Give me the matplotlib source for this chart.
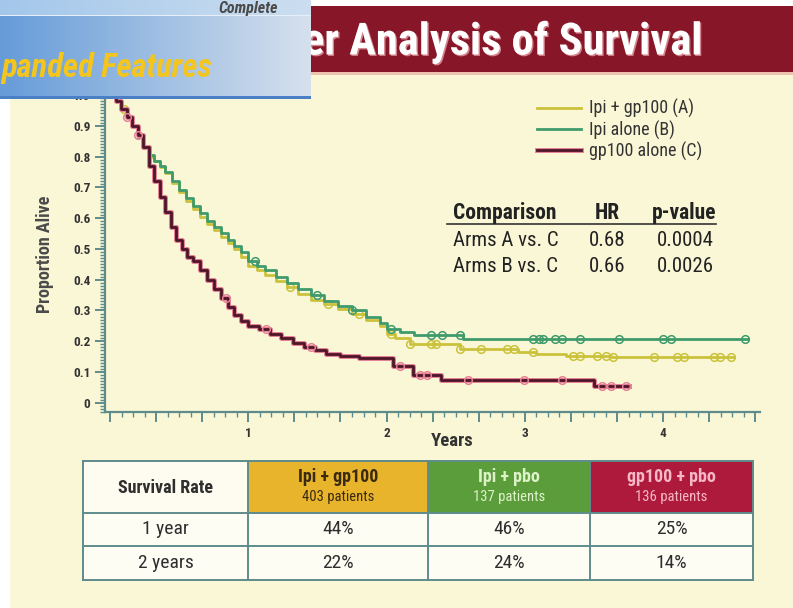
import numpy as np
import matplotlib

matplotlib.use("Agg")
import matplotlib.pyplot as plt
import matplotlib.ticker as mticker
import matplotlib.patheffects as pe
from matplotlib.patches import Rectangle

FONT = ["Roboto Condensed", "DejaVu Sans"]
plt.rcParams["font.family"] = FONT

# Kaplan-Meier steps (years, proportion alive)
TIME_A = [0, 0.04, 0.08, 0.12, 0.16, 0.2, 0.24, 0.28, 0.32, 0.36, 0.4, 0.45, 0.5, 0.55,
          0.6, 0.65, 0.7, 0.75, 0.8, 0.85, 0.9, 0.95, 1.0, 1.06, 1.12, 1.2, 1.28, 1.36,
          1.45, 1.55, 1.65, 1.75, 1.85, 1.95, 2.0, 2.06, 2.17, 2.53, 2.95, 3.08, 3.3, 3.62]
SURV_A = [1.0, 0.98, 0.955, 0.93, 0.9, 0.865, 0.83, 0.8, 0.785, 0.765, 0.745, 0.715, 0.685,
          0.655, 0.63, 0.605, 0.58, 0.56, 0.54, 0.52, 0.5, 0.475, 0.445, 0.43, 0.415, 0.395,
          0.375, 0.355, 0.335, 0.32, 0.305, 0.29, 0.27, 0.25, 0.225, 0.21, 0.19, 0.175, 0.165,
          0.16, 0.153, 0.148]
END_A = 4.51
CENSOR_A = [0.1, 1.3, 1.58, 1.8, 2.03, 2.17, 2.32, 2.36, 2.53, 2.68, 2.87, 2.92, 3.06, 3.35,
            3.4, 3.52, 3.59, 3.64, 3.93, 4.1, 4.15, 4.37, 4.41, 4.49]

TIME_B = [0, 0.04, 0.08, 0.12, 0.16, 0.2, 0.24, 0.28, 0.32, 0.36, 0.4, 0.45, 0.5, 0.55,
          0.6, 0.65, 0.7, 0.75, 0.8, 0.85, 0.9, 0.95, 1.0, 1.06, 1.12, 1.2, 1.28, 1.36,
          1.45, 1.55, 1.65, 1.75, 1.85, 1.95, 2.0, 2.1, 2.2, 2.55]
SURV_B = [1.0, 0.98, 0.955, 0.93, 0.9, 0.865, 0.83, 0.805, 0.785, 0.77, 0.75, 0.72, 0.69,
          0.665, 0.64, 0.615, 0.59, 0.57, 0.55, 0.53, 0.51, 0.49, 0.46, 0.445, 0.43, 0.41,
          0.39, 0.37, 0.35, 0.33, 0.315, 0.3, 0.28, 0.26, 0.24, 0.23, 0.22, 0.207]
END_B = 4.61
CENSOR_B = [1.05, 1.5, 1.75, 2.03, 2.32, 2.4, 2.53, 3.06, 3.1, 3.13, 3.22, 3.27, 3.4, 3.68,
            4.0, 4.06, 4.59]

TIME_C = [0, 0.04, 0.08, 0.12, 0.16, 0.2, 0.24, 0.28, 0.32, 0.36, 0.4, 0.44, 0.48, 0.52,
          0.56, 0.6, 0.65, 0.7, 0.75, 0.8, 0.85, 0.9, 0.95, 1.0, 1.08, 1.16, 1.24, 1.32,
          1.4, 1.48, 1.56, 1.66, 1.8, 2.05, 2.19, 2.39, 3.5]
SURV_C = [1.0, 0.98, 0.955, 0.93, 0.9, 0.87, 0.83, 0.77, 0.72, 0.67, 0.62, 0.57, 0.53, 0.5,
          0.475, 0.46, 0.43, 0.4, 0.37, 0.34, 0.31, 0.285, 0.265, 0.25, 0.24, 0.225, 0.21,
          0.195, 0.18, 0.17, 0.16, 0.152, 0.145, 0.118, 0.091, 0.075, 0.053]
END_C = 3.75
CENSOR_C = [0.12, 0.2, 0.84, 1.13, 1.45, 2.1, 2.24, 2.29, 2.59, 2.99, 3.27, 3.56, 3.62, 3.73]

ARM_LABELS = ["Ipi + gp100 (A)", "Ipi alone (B)", "gp100 alone (C)"]

HR_HEADER = ["Comparison", "HR", "p-value"]
HR_ROWS = [["Arms A vs. C", "0.68", "0.0004"], ["Arms B vs. C", "0.66", "0.0026"]]

TABLE_GROUPS = ["Ipi + gp100", "Ipi + pbo", "gp100 + pbo"]
TABLE_PATIENTS = ["403 patients", "137 patients", "136 patients"]
TABLE_ROWS = ["1 year", "2 years"]
TABLE_VALUES = [["44%", "46%", "25%"], ["22%", "24%", "14%"]]

W, H = 793, 608
CREAM = "#FAF7D6"
BANNER = "#861628"
TEAL = "#5E8C8C"
INK = "#2E2E2E"

fig = plt.figure(figsize=(W / 100, H / 100), dpi=100, facecolor="white")

# background layer in pixel coordinates
bg = fig.add_axes([0, 0, 1, 1], zorder=0)
bg.set_xlim(0, W)
bg.set_ylim(H, 0)
bg.axis("off")
bg.add_patch(Rectangle((10, 72), W - 10, H - 72, color=CREAM, lw=0))
bg.add_patch(Rectangle((0, 6), W, 66, color=BANNER, lw=0))
bg.add_patch(Rectangle((0, 72), W, 3, color="#EDC3AE", lw=0))
bg.text(303, 42, "er Analysis of Survival", color="white", fontsize=32, fontweight="bold",
        ha="left", va="center",
        path_effects=[pe.withSimplePatchShadow(offset=(1, -1), shadow_rgbFace="#E8A0A8", alpha=0.8)])

# survival table
col_x = [83, 248, 428, 590, 753]
row_y = [461, 513, 546, 580]
head_colors = ["#FEFCF0", "#E8B42C", "#5B9C3B", "#AE1A3B"]
head_text = [INK, "#3A2A10", "#DDF2C8", "#F6B8C6"]
for i in range(4):
    bg.add_patch(Rectangle((col_x[i], row_y[0]), col_x[i + 1] - col_x[i], row_y[1] - row_y[0],
                           facecolor=head_colors[i], lw=0))
bg.add_patch(Rectangle((col_x[0], row_y[1]), col_x[-1] - col_x[0], row_y[-1] - row_y[1],
                       facecolor="#FEFDF4", lw=0))
for x in col_x:
    bg.plot([x, x], [row_y[0], row_y[-1]], color=TEAL, lw=1.4)
for y in row_y:
    bg.plot([col_x[0], col_x[-1]], [y, y], color=TEAL, lw=1.4)

cx = [(col_x[i] + col_x[i + 1]) / 2 for i in range(4)]
bg.text(cx[0], 488, "Survival Rate", ha="center", va="center", fontsize=13,
        fontweight="bold", color=INK)
for i, (g, p) in enumerate(zip(TABLE_GROUPS, TABLE_PATIENTS)):
    bg.text(cx[i + 1], 477, g, ha="center", va="center", fontsize=13, fontweight="bold",
            color=head_text[i + 1])
    bg.text(cx[i + 1], 497, p, ha="center", va="center", fontsize=10.5, color=head_text[i + 1])
for r, (lab, vals) in enumerate(zip(TABLE_ROWS, TABLE_VALUES)):
    yc = (row_y[r + 1] + row_y[r + 2]) / 2
    bg.text(cx[0], yc, lab, ha="center", va="center", fontsize=14, color=INK)
    for i, v in enumerate(vals):
        bg.text(cx[i + 1], yc, v, ha="center", va="center", fontsize=14, color=INK)

# hazard ratio block
bg.text(453, 213, HR_HEADER[0], ha="left", va="center", fontsize=15.5, fontweight="bold", color="#222")
bg.text(607, 213, HR_HEADER[1], ha="center", va="center", fontsize=15.5, fontweight="bold", color="#222")
bg.text(716, 213, HR_HEADER[2], ha="right", va="center", fontsize=15.5, fontweight="bold", color="#222")
bg.plot([447, 716], [224, 224], color="#333", lw=1.2)
for r, row in enumerate(HR_ROWS):
    y = 241 + r * 26
    bg.text(453, y, row[0], ha="left", va="center", fontsize=15, color="#222")
    bg.text(607, y, row[1], ha="center", va="center", fontsize=15, color="#222")
    bg.text(714, y, row[2], ha="right", va="center", fontsize=15, color="#222")

bg.text(45, 254, "Proportion Alive", rotation=90, ha="center", va="center", fontsize=13,
        fontweight="bold", color="#4A4A4A")
bg.text(452, 441, "Years", ha="center", va="center", fontsize=13.5, fontweight="bold", color="#333")

# survival curves
ax = fig.add_axes([105 / W, 1 - 412 / H, (760 - 105) / W, (412 - 95) / H], zorder=1)
ax.patch.set_alpha(0)

arms = [
    (TIME_A, SURV_A, END_A, CENSOR_A, "#CBC23C", None),
    (TIME_B, SURV_B, END_B, CENSOR_B, "#3F9A6C", None),
    (TIME_C, SURV_C, END_C, CENSOR_C, "#4E1629", "#E58295"),
]
for (t, s, end, cens, color, halo), label in zip(arms, ARM_LABELS):
    t = np.array(t + [end])
    s = np.array(s + [s[-1]])
    effects = [pe.Stroke(linewidth=3.6, foreground=halo), pe.Normal()] if halo else None
    ax.step(t, s, where="post", color=color, lw=2.0, label=label, path_effects=effects)
    idx = np.searchsorted(t, cens, side="right") - 1
    ax.plot(cens, s[idx], "o", ms=5.5, mfc="none", mec=halo or color, mew=1.1)

ax.set_xlim(-0.036, 4.70)
ax.set_ylim(-0.03, 1.0)
for side in ("top", "right"):
    ax.spines[side].set_visible(False)
for side in ("left", "bottom"):
    ax.spines[side].set_color(TEAL)
    ax.spines[side].set_linewidth(1.6)
ax.yaxis.set_major_locator(mticker.MultipleLocator(0.1))
ax.yaxis.set_minor_locator(mticker.MultipleLocator(0.01))
ax.yaxis.set_major_formatter(mticker.FuncFormatter(lambda v, _: "0" if abs(v) < 1e-9 else f"{v:.1f}"))
ax.xaxis.set_major_locator(mticker.MultipleLocator(1 / 3))
ax.xaxis.set_minor_locator(mticker.MultipleLocator(1 / 12))
ax.xaxis.set_major_formatter(mticker.FuncFormatter(
    lambda v, _: f"{round(v):d}" if abs(v - round(v)) < 1e-6 and round(v) > 0 else ""))
ax.tick_params(axis="both", which="major", color=TEAL, width=1.4, length=7, labelsize=9.5,
               labelcolor="#333")
ax.tick_params(axis="both", which="minor", color=TEAL, width=1.0, length=3.5)
ax.tick_params(axis="x", which="major", pad=4)
for lab in ax.get_xticklabels() + ax.get_yticklabels():
    lab.set_fontweight("bold")

leg = ax.legend(loc="upper left", bbox_to_anchor=(530 / W, 1 - 92 / H), bbox_transform=fig.transFigure,
                frameon=False, fontsize=13, handlelength=2.4, handletextpad=0.45, labelspacing=0.12,
                borderaxespad=0)
for txt in leg.get_texts():
    txt.set_color("#333")

# blue overlay box in the corner
ov = fig.add_axes([0, 0, 1, 1], zorder=3)
ov.axis("off")
grad = np.linspace(0, 1, 256)
blue = np.array([[0.40, 0.61, 0.85], [0.84, 0.88, 0.93]])
img = (blue[0][None, :] * (1 - grad[:, None]) + blue[1][None, :] * grad[:, None])[None, :, :]
ov.imshow(img, extent=(0, 311, 97, 16), aspect="auto", interpolation="bicubic")
top_blue = np.array([[0.64, 0.78, 0.92], [0.80, 0.87, 0.94]])
img2 = (top_blue[0][None, :] * (1 - grad[:, None]) + top_blue[1][None, :] * grad[:, None])[None, :, :]
ov.imshow(img2, extent=(0, 311, 15, 0), aspect="auto", interpolation="bicubic")
ov.add_patch(Rectangle((0, 14.5), 311, 1.5, color="#E6EEF8", lw=0))
ov.add_patch(Rectangle((0, 96), 311, 3, color="#4A80C6", lw=0))
ov.set_xlim(0, W)
ov.set_ylim(H, 0)
ov.text(278, 0.5, "Complete", ha="right", va="top", fontsize=11.5, fontstyle="italic",
        fontweight="bold", color="#4A4A4A")
ov.text(1, 68, "panded Features", ha="left", va="center", fontsize=23.5, fontstyle="italic",
        fontweight="bold", color="#F4C51C")

fig.savefig("out.png", dpi=100, facecolor="white")
